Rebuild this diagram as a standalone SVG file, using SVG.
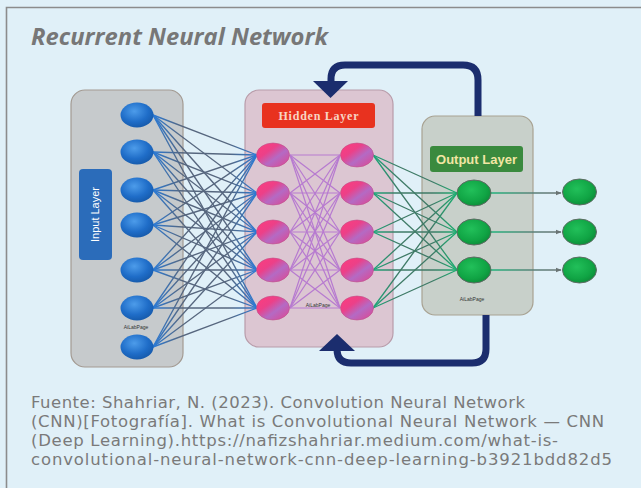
<svg xmlns="http://www.w3.org/2000/svg" width="641" height="488" viewBox="0 0 641 488">
  <defs>
    <radialGradient id="gBlue" cx="0.42" cy="0.35" r="0.7">
      <stop offset="0" stop-color="#4d9cea"/>
      <stop offset="0.6" stop-color="#1f6dc8"/>
      <stop offset="1" stop-color="#1558a8"/>
    </radialGradient>
    <linearGradient id="gPink" x1="0" y1="0" x2="1" y2="1">
      <stop offset="0" stop-color="#ff3c7c"/>
      <stop offset="0.35" stop-color="#ec4088"/>
      <stop offset="0.6" stop-color="#b46ac4"/>
      <stop offset="1" stop-color="#e2448e"/>
    </linearGradient>
    <radialGradient id="gGreen" cx="0.42" cy="0.38" r="0.7">
      <stop offset="0" stop-color="#22c05a"/>
      <stop offset="0.65" stop-color="#10a444"/>
      <stop offset="1" stop-color="#0c8636"/>
    </radialGradient>
    <linearGradient id="gIn" gradientUnits="userSpaceOnUse" x1="153" y1="0" x2="257" y2="0">
      <stop offset="0" stop-color="#2a7ad6"/>
      <stop offset="0.28" stop-color="#56667e"/>
      <stop offset="0.72" stop-color="#56667e"/>
      <stop offset="1" stop-color="#2a7ad6"/>
    </linearGradient>
    <linearGradient id="gOut" gradientUnits="userSpaceOnUse" x1="373" y1="0" x2="457" y2="0">
      <stop offset="0" stop-color="#18a878"/>
      <stop offset="0.3" stop-color="#3e7a66"/>
      <stop offset="0.7" stop-color="#3e7a66"/>
      <stop offset="1" stop-color="#18b070"/>
    </linearGradient>
    <linearGradient id="gFin" gradientUnits="userSpaceOnUse" x1="490" y1="0" x2="562" y2="0">
      <stop offset="0" stop-color="#1cb47a"/>
      <stop offset="0.6" stop-color="#5a8078"/>
      <stop offset="1" stop-color="#6a7474"/>
    </linearGradient>
    <marker id="tip" viewBox="0 0 10 10" refX="9" refY="5" markerWidth="6" markerHeight="6" orient="auto" markerUnits="userSpaceOnUse">
      <path d="M0,1 L10,5 L0,9 z" fill="#6a7474"/>
    </marker>
    <style>
      .panel { stroke-width: 1.2; }
      .bn { fill: url(#gBlue); }
      .pn { fill: url(#gPink); stroke: #c0508a; stroke-width: 0.6; }
      .gn { fill: url(#gGreen); stroke: #5e6c64; stroke-width: 1; }
      .cin line { stroke: url(#gIn); stroke-width: 1.35; }
      .chid line { stroke: #b77ad0; stroke-width: 1.2; }
      .cout line { stroke: url(#gOut); stroke-width: 1.3; }
      .cfin line { stroke: url(#gFin); stroke-width: 1.4; }
      .loop { fill: none; stroke: #1b2d6e; stroke-width: 7; }
      .head { fill: #1b2d6e; }
      .tiny { font-family: "Liberation Sans", Arial, sans-serif; font-size: 5px; fill: #333; text-anchor: middle; }
      .foot { font-family: "DejaVu Sans", "Liberation Sans", sans-serif; font-size: 16.5px; fill: #7a7a7a; }
    </style>
  </defs>

  <!-- page background and frame -->
  <rect x="0" y="0" width="641" height="488" fill="#e0f0f8"/>
  <path d="M6.5,488 V7.5 H641" fill="none" stroke="#8c8c8c" stroke-width="1.6"/>

  <text x="31" y="45" font-family="'Open Sans', 'Liberation Sans', sans-serif" font-size="23.5" font-weight="bold" font-style="italic" fill="#777777" textLength="297" lengthAdjust="spacingAndGlyphs">Recurrent Neural Network</text>

  <!-- layer panels -->
  <g id="input-layer">
    <rect class="panel" x="71" y="90" width="112" height="277" rx="14" fill="#c6cacc" stroke="#a39a92"/>
    <rect x="79" y="169" width="33" height="91" rx="4" fill="#2b6cba"/>
    <text transform="translate(99,214.5) rotate(-90)" font-family="'Liberation Sans', Arial, sans-serif" font-size="11" fill="#ffffff" text-anchor="middle">Input Layer</text>
    <text class="tiny" x="136" y="329">AiLabPage</text>
  </g>
  <g id="hidden-layer">
    <rect class="panel" x="245" y="90" width="148" height="257" rx="14" fill="#dcc6d2" stroke="#b89caa"/>
    <rect x="262" y="103" width="113" height="25" rx="3" fill="#e8321f"/>
    <text x="318.5" y="120" font-family="'Liberation Serif', 'Times New Roman', serif" font-size="12" font-weight="bold" fill="#f8d4c4" text-anchor="middle" textLength="80">Hidden Layer</text>
    <text class="tiny" x="318" y="307">AiLabPage</text>
  </g>
  <g id="output-layer">
    <rect class="panel" x="422" y="116" width="111" height="199" rx="13" fill="#c8d0ca" stroke="#a8a292"/>
    <rect x="430" y="146" width="93" height="26" rx="3" fill="#3a8a3e"/>
    <text x="476.5" y="164" font-family="'Liberation Sans', Arial, sans-serif" font-size="13" font-weight="bold" fill="#f2e6a4" text-anchor="middle">Output Layer</text>
    <text class="tiny" x="472" y="301">AiLabPage</text>
  </g>

  <!-- recurrent feedback loop -->
  <g id="feedback">
    <path class="loop" d="M478,116 V80 Q478,65 463,65 H345 Q331,65 331,79 V83"/>
    <polygon class="head" points="313,81 348,81 330.5,98"/>
    <path class="loop" d="M486,315 V349 Q486,363 472,363 H351 Q337,363 337,349 V349"/>
    <polygon class="head" points="319,351 355,351 337,334"/>
  </g>

  <!-- connections between layers -->
  <g id="connectors">
    <g class="cin">
      <line x1="153" y1="115" x2="257" y2="155"/><line x1="153" y1="115" x2="257" y2="193"/><line x1="153" y1="115" x2="257" y2="232"/><line x1="153" y1="115" x2="257" y2="270"/><line x1="153" y1="115" x2="257" y2="308"/>
      <line x1="153" y1="152" x2="257" y2="155"/><line x1="153" y1="152" x2="257" y2="193"/><line x1="153" y1="152" x2="257" y2="232"/><line x1="153" y1="152" x2="257" y2="270"/><line x1="153" y1="152" x2="257" y2="308"/>
      <line x1="153" y1="190" x2="257" y2="155"/><line x1="153" y1="190" x2="257" y2="193"/><line x1="153" y1="190" x2="257" y2="232"/><line x1="153" y1="190" x2="257" y2="270"/><line x1="153" y1="190" x2="257" y2="308"/>
      <line x1="153" y1="225" x2="257" y2="155"/><line x1="153" y1="225" x2="257" y2="193"/><line x1="153" y1="225" x2="257" y2="232"/><line x1="153" y1="225" x2="257" y2="270"/><line x1="153" y1="225" x2="257" y2="308"/>
      <line x1="153" y1="270" x2="257" y2="155"/><line x1="153" y1="270" x2="257" y2="193"/><line x1="153" y1="270" x2="257" y2="232"/><line x1="153" y1="270" x2="257" y2="270"/><line x1="153" y1="270" x2="257" y2="308"/>
      <line x1="153" y1="308" x2="257" y2="155"/><line x1="153" y1="308" x2="257" y2="193"/><line x1="153" y1="308" x2="257" y2="232"/><line x1="153" y1="308" x2="257" y2="270"/><line x1="153" y1="308" x2="257" y2="308"/>
      <line x1="153" y1="347" x2="257" y2="155"/><line x1="153" y1="347" x2="257" y2="193"/><line x1="153" y1="347" x2="257" y2="232"/><line x1="153" y1="347" x2="257" y2="270"/><line x1="153" y1="347" x2="257" y2="308"/>
    </g>
    <g class="chid">
      <line x1="290" y1="155" x2="340" y2="155"/><line x1="290" y1="155" x2="340" y2="193"/><line x1="290" y1="155" x2="340" y2="232"/><line x1="290" y1="155" x2="340" y2="270"/><line x1="290" y1="155" x2="340" y2="308"/>
      <line x1="290" y1="193" x2="340" y2="155"/><line x1="290" y1="193" x2="340" y2="193"/><line x1="290" y1="193" x2="340" y2="232"/><line x1="290" y1="193" x2="340" y2="270"/><line x1="290" y1="193" x2="340" y2="308"/>
      <line x1="290" y1="232" x2="340" y2="155"/><line x1="290" y1="232" x2="340" y2="193"/><line x1="290" y1="232" x2="340" y2="232"/><line x1="290" y1="232" x2="340" y2="270"/><line x1="290" y1="232" x2="340" y2="308"/>
      <line x1="290" y1="270" x2="340" y2="155"/><line x1="290" y1="270" x2="340" y2="193"/><line x1="290" y1="270" x2="340" y2="232"/><line x1="290" y1="270" x2="340" y2="270"/><line x1="290" y1="270" x2="340" y2="308"/>
      <line x1="290" y1="308" x2="340" y2="155"/><line x1="290" y1="308" x2="340" y2="193"/><line x1="290" y1="308" x2="340" y2="232"/><line x1="290" y1="308" x2="340" y2="270"/><line x1="290" y1="308" x2="340" y2="308"/>
    </g>
    <g class="cout">
      <line x1="373" y1="155" x2="457" y2="193"/><line x1="373" y1="155" x2="457" y2="232"/><line x1="373" y1="155" x2="457" y2="270"/>
      <line x1="373" y1="193" x2="457" y2="193"/><line x1="373" y1="193" x2="457" y2="232"/><line x1="373" y1="193" x2="457" y2="270"/>
      <line x1="373" y1="232" x2="457" y2="193"/><line x1="373" y1="232" x2="457" y2="232"/><line x1="373" y1="232" x2="457" y2="270"/>
      <line x1="373" y1="270" x2="457" y2="193"/><line x1="373" y1="270" x2="457" y2="232"/><line x1="373" y1="270" x2="457" y2="270"/>
      <line x1="373" y1="308" x2="457" y2="193"/><line x1="373" y1="308" x2="457" y2="232"/><line x1="373" y1="308" x2="457" y2="270"/>
    </g>
    <g class="cfin">
      <line x1="490" y1="193" x2="561" y2="193" marker-end="url(#tip)"/>
      <line x1="490" y1="232" x2="561" y2="232" marker-end="url(#tip)"/>
      <line x1="490" y1="270" x2="561" y2="270" marker-end="url(#tip)"/>
    </g>
  </g>

  <!-- input neurons -->
  <g id="in-1"><ellipse class="bn" cx="137" cy="115" rx="16.5" ry="12.5"/></g>
  <g id="in-2"><ellipse class="bn" cx="137" cy="152" rx="16.5" ry="12.5"/></g>
  <g id="in-3"><ellipse class="bn" cx="137" cy="190" rx="16.5" ry="12.5"/></g>
  <g id="in-4"><ellipse class="bn" cx="137" cy="225" rx="16.5" ry="12.5"/></g>
  <g id="in-5"><ellipse class="bn" cx="137" cy="270" rx="16.5" ry="12.5"/></g>
  <g id="in-6"><ellipse class="bn" cx="137" cy="308" rx="16.5" ry="12.5"/></g>
  <g id="in-7"><ellipse class="bn" cx="137" cy="347" rx="16.5" ry="12.5"/></g>

  <!-- hidden neurons, first column -->
  <g id="h1-1"><ellipse class="pn" cx="273" cy="155" rx="16.5" ry="12"/></g>
  <g id="h1-2"><ellipse class="pn" cx="273" cy="193" rx="16.5" ry="12"/></g>
  <g id="h1-3"><ellipse class="pn" cx="273" cy="232" rx="16.5" ry="12"/></g>
  <g id="h1-4"><ellipse class="pn" cx="273" cy="270" rx="16.5" ry="12"/></g>
  <g id="h1-5"><ellipse class="pn" cx="273" cy="308" rx="16.5" ry="12"/></g>

  <!-- hidden neurons, second column -->
  <g id="h2-1"><ellipse class="pn" cx="357" cy="155" rx="16.5" ry="12"/></g>
  <g id="h2-2"><ellipse class="pn" cx="357" cy="193" rx="16.5" ry="12"/></g>
  <g id="h2-3"><ellipse class="pn" cx="357" cy="232" rx="16.5" ry="12"/></g>
  <g id="h2-4"><ellipse class="pn" cx="357" cy="270" rx="16.5" ry="12"/></g>
  <g id="h2-5"><ellipse class="pn" cx="357" cy="308" rx="16.5" ry="12"/></g>

  <!-- output neurons -->
  <g id="out-1"><ellipse class="gn" cx="474" cy="193" rx="17" ry="13"/></g>
  <g id="out-2"><ellipse class="gn" cx="474" cy="232" rx="17" ry="13"/></g>
  <g id="out-3"><ellipse class="gn" cx="474" cy="270" rx="17" ry="13"/></g>

  <!-- emitted outputs -->
  <g id="res-1"><ellipse class="gn" cx="579.5" cy="192" rx="17" ry="13"/></g>
  <g id="res-2"><ellipse class="gn" cx="579.5" cy="232" rx="17" ry="13"/></g>
  <g id="res-3"><ellipse class="gn" cx="579.5" cy="270" rx="17" ry="13"/></g>

  <!-- source note -->
  <g id="source">
    <text class="foot" x="31" y="407.5" textLength="494">Fuente: Shahriar, N. (2023). Convolution Neural Network</text>
    <text class="foot" x="31" y="426.8" textLength="573">(CNN)[Fotografía]. What is Convolutional Neural Network — CNN</text>
    <text class="foot" x="31" y="446.1" textLength="527">(Deep Learning).https://nafizshahriar.medium.com/what-is-</text>
    <text class="foot" x="31" y="465.4" textLength="581">convolutional-neural-network-cnn-deep-learning-b3921bdd82d5</text>
  </g>
</svg>
